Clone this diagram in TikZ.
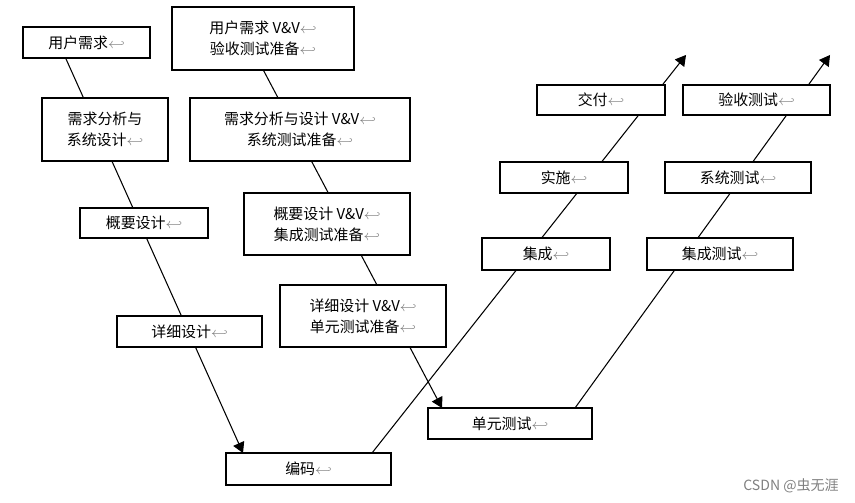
\documentclass[tikz,border=0pt]{standalone}
\usepackage{fontspec}
\setmainfont{Noto Sans CJK SC}
\usetikzlibrary{arrows}
\begin{document}
\begin{tikzpicture}[x=0.02cm,y=-0.02cm,
  box/.style={draw,fill=white,line width=0.8pt,align=center,inner sep=0pt,font=\fontsize{8.5}{12}\selectfont},
  vline/.style={line width=0.6pt,-triangle 60}]
\useasboundingbox (0,0) rectangle (855,503);
\newcommand{\ret}{\textcolor{gray}{\ensuremath{\hookleftarrow}}}
% lines behind the boxes
\coordinate (a1) at (62,50); \coordinate (a2) at (243,453);
\coordinate (b1) at (258,60); \coordinate (b2) at (442,408);
\coordinate (c1) at (372,453); \coordinate (c2) at (686,55);
\coordinate (d1) at (575,408); \coordinate (d2) at (830,55);
\draw[vline] (a1) -- (a2);
\draw[vline] (b1) -- (b2);
\draw[vline] (c1) -- (c2);
\draw[vline] (d1) -- (d2);
% left side
\node[box,minimum width=127*0.02cm,minimum height=31*0.02cm] (yhxq) at (86.5,42.5) {用户需求\ret};
\node[box,minimum width=126*0.02cm,minimum height=63*0.02cm] (xqfx) at (105,129.5) {需求分析与\\系统设计\ret};
\node[box,minimum width=128*0.02cm,minimum height=30*0.02cm] (gysj) at (144,223) {概要设计\ret};
\node[box,minimum width=145*0.02cm,minimum height=31*0.02cm] (xxsj) at (189.5,331.5) {详细设计\ret};
\node[box,minimum width=165*0.02cm,minimum height=32*0.02cm] (bm) at (308.5,469) {编码\ret};
% V&V boxes
\node[box,minimum width=182*0.02cm,minimum height=63*0.02cm] (vv1) at (263,38.5) {用户需求 V\&V\ret\\验收测试准备\ret};
\node[box,minimum width=220*0.02cm,minimum height=63*0.02cm] (vv2) at (300,129.5) {需求分析与设计 V\&V\ret\\系统测试准备\ret};
\node[box,minimum width=166*0.02cm,minimum height=62*0.02cm] (vv3) at (327,224) {概要设计 V\&V\ret\\集成测试准备\ret};
\node[box,minimum width=166*0.02cm,minimum height=62*0.02cm] (vv4) at (363,316) {详细设计 V\&V\ret\\单元测试准备\ret};
\node[box,minimum width=164*0.02cm,minimum height=31*0.02cm] (dycs) at (510,423.5) {单元测试\ret};
% right side
\node[box,minimum width=128*0.02cm,minimum height=32*0.02cm] (jc) at (546,254) {集成\ret};
\node[box,minimum width=128*0.02cm,minimum height=31*0.02cm] (ss) at (564,177.5) {实施\ret};
\node[box,minimum width=128*0.02cm,minimum height=30*0.02cm] (jf) at (601,100) {交付\ret};
\node[box,minimum width=146*0.02cm,minimum height=32*0.02cm] (jccs) at (720,254) {集成测试\ret};
\node[box,minimum width=146*0.02cm,minimum height=31*0.02cm] (xtcs) at (738,177.5) {系统测试\ret};
\node[box,minimum width=147*0.02cm,minimum height=30*0.02cm] (yscs) at (756.5,100) {验收测试\ret};
\node[text=gray,font=\fontsize{8}{10}\selectfont,anchor=east] (wm) at (845,486) {CSDN @虫无涯};
\end{tikzpicture}
\end{document}
